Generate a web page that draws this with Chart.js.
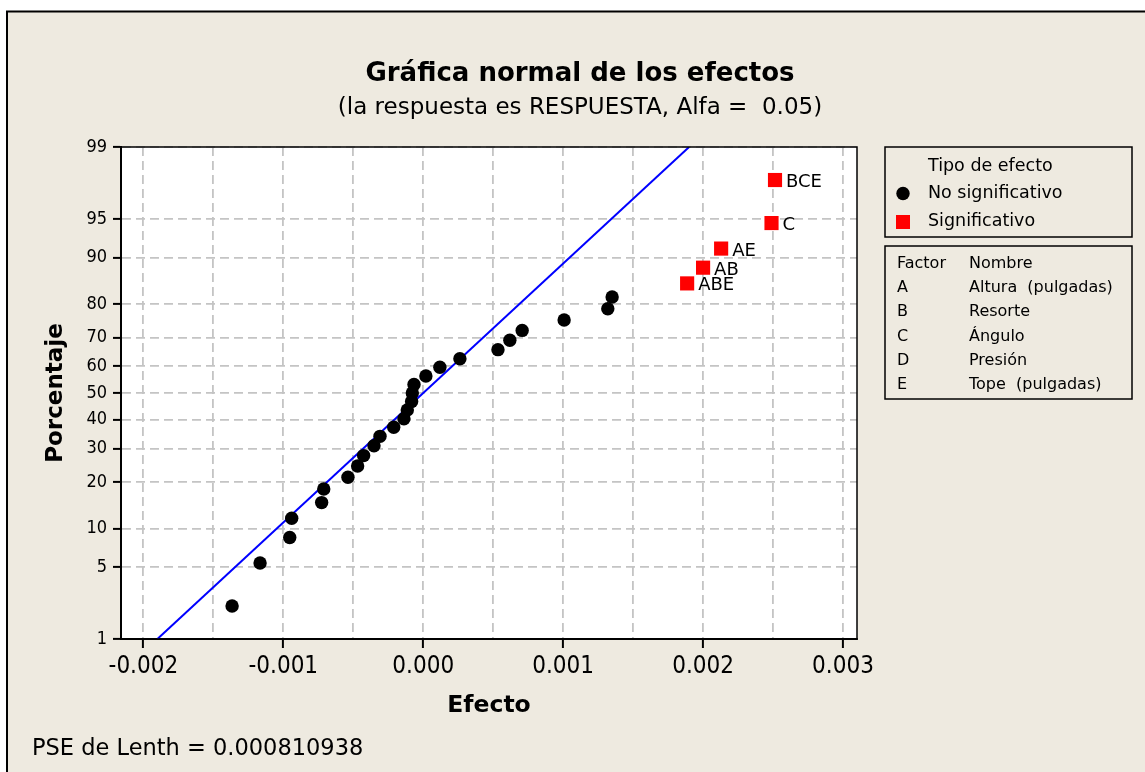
<!DOCTYPE html>
<html>
<head>
<meta charset="utf-8">
<script src="https://cdn.jsdelivr.net/npm/chart.js@4.4.1/dist/chart.umd.min.js"></script>
<style>
  html, body { margin: 0; padding: 0; background: #fff; }
  #wrap { width: 1145px; height: 772px; }
</style>
</head>
<body>
<div id="wrap"><canvas id="chart" width="1145" height="772"></canvas></div>
<script>
// datos
const efectoNoSig = [-0.001366, -0.001166, -0.000954, -0.000940, -0.000726, -0.000711, -0.000538,
  -0.000469, -0.000426, -0.000352, -0.000309, -0.000211, -0.000138, -0.000114, -0.000083,
  -0.000078, -0.000066, 0.000019, 0.000119, 0.000262, 0.000534, 0.000619, 0.000707,
  0.001007, 0.001319, 0.001350];
const pctNoSig = [2.2, 5.4, 8.6, 11.8, 15.0, 18.2, 21.3, 24.5, 27.7, 30.9, 34.1, 37.3, 40.4,
  43.6, 46.8, 50.0, 53.2, 56.4, 59.6, 62.7, 65.9, 69.1, 72.3, 75.5, 78.7, 81.8];

const efectoSig = [0.001886, 0.002000, 0.002129, 0.002489, 0.002514];
const pctSig = [85.0, 88.2, 91.4, 94.6, 97.8];
const etiquetasSig = ['ABE', 'AB', 'AE', 'C', 'BCE'];

// recta de referencia (extremos)
const efectoRecta = [-0.00190, 0.00190];
const pctRecta = [1, 99];

const xTicks = [-0.002, -0.0015, -0.001, -0.0005, 0, 0.0005, 0.001, 0.0015, 0.002, 0.0025, 0.003];
const yTickLabels = [1, 5, 10, 20, 30, 40, 50, 60, 70, 80, 90, 95, 99];

const factores = ['A', 'B', 'C', 'D', 'E'];
const nombres = ['Altura  (pulgadas)', 'Resorte', 'Ángulo', 'Presión', 'Tope  (pulgadas)'];

const FONT = '"DejaVu Sans", sans-serif';
const FONT_C = '"DejaVu Sans Condensed", "DejaVu Sans", sans-serif';
const BEIGE = '#EEEAE0';

// inversa de la normal (Acklam)
function probit(p) {
  const a = [-3.969683028665376e+01, 2.209460984245205e+02, -2.759285104469687e+02, 1.383577518672690e+02, -3.066479806614716e+01, 2.506628277459239e+00];
  const b = [-5.447609879822406e+01, 1.615858368580409e+02, -1.556989798598866e+02, 6.680131188771972e+01, -1.328068155288572e+01];
  const c = [-7.784894002430293e-03, -3.223964580411365e-01, -2.400758277161838e+00, -2.549732539343734e+00, 4.374664141464968e+00, 2.938163982698783e+00];
  const d = [7.784695709041462e-03, 3.224671290700398e-01, 2.445134137142996e+00, 3.754408661907416e+00];
  const pl = 0.02425;
  let q, r;
  if (p < pl) {
    q = Math.sqrt(-2 * Math.log(p));
    return (((((c[0]*q+c[1])*q+c[2])*q+c[3])*q+c[4])*q+c[5]) / ((((d[0]*q+d[1])*q+d[2])*q+d[3])*q+1);
  }
  if (p <= 1 - pl) {
    q = p - 0.5; r = q * q;
    return (((((a[0]*r+a[1])*r+a[2])*r+a[3])*r+a[4])*r+a[5])*q / (((((b[0]*r+b[1])*r+b[2])*r+b[3])*r+b[4])*r+1);
  }
  q = Math.sqrt(-2 * Math.log(1 - p));
  return -(((((c[0]*q+c[1])*q+c[2])*q+c[3])*q+c[4])*q+c[5]) / ((((d[0]*q+d[1])*q+d[2])*q+d[3])*q+1);
}

const toPts = (xs, ps) => xs.map((x, i) => ({x: x, y: probit(ps[i] / 100)}));
const isMajor = v => Math.abs(v / 0.001 - Math.round(v / 0.001)) < 1e-6;

const marco = {
  id: 'marco',
  beforeDraw(chart) {
    const ctx = chart.ctx, a = chart.chartArea;
    ctx.save();
    ctx.fillStyle = BEIGE;
    ctx.fillRect(7, 11.5, 1200, 800);
    ctx.strokeStyle = '#000';
    ctx.lineWidth = 2;
    ctx.strokeRect(7, 11.5, 1200, 800);
    ctx.fillStyle = '#fff';
    ctx.fillRect(a.left, a.top, a.right - a.left, a.bottom - a.top);
    ctx.restore();
  },
  afterDatasetsDraw(chart) {
    const ctx = chart.ctx;
    const meta = chart.getDatasetMeta(2);
    ctx.save();
    ctx.fillStyle = '#000';
    ctx.font = '18px ' + FONT;
    ctx.textBaseline = 'alphabetic';
    meta.data.forEach((pt, i) => {
      ctx.fillText(etiquetasSig[i], pt.x + 11, pt.y + 7);
    });
    ctx.restore();
  },
  afterDraw(chart) {
    const ctx = chart.ctx, a = chart.chartArea;
    ctx.save();
    ctx.strokeStyle = '#000';
    ctx.lineWidth = 1.5;
    ctx.strokeRect(a.left, a.top, a.right - a.left, a.bottom - a.top);

    ctx.fillStyle = '#000';
    ctx.textAlign = 'center';
    ctx.textBaseline = 'alphabetic';
    ctx.font = 'bold 26px ' + FONT;
    ctx.fillText('Gráfica normal de los efectos', 580, 81);
    ctx.font = '23px ' + FONT;
    ctx.fillText('(la respuesta es RESPUESTA, Alfa =  0.05)', 580, 114);

    ctx.font = 'bold 23.5px ' + FONT;
    ctx.fillText('Efecto', (a.left + a.right) / 2, 712);
    ctx.save();
    ctx.translate(62, (a.top + a.bottom) / 2);
    ctx.rotate(-Math.PI / 2);
    ctx.font = 'bold 23px ' + FONT;
    ctx.fillText('Porcentaje', 0, 0);
    ctx.restore();

    ctx.textAlign = 'left';
    ctx.font = '22.5px ' + FONT;
    ctx.fillText('PSE de Lenth = 0.000810938', 32, 755);

    // leyenda tipo de efecto
    ctx.lineWidth = 1.5;
    ctx.strokeRect(885, 147, 247, 90);
    ctx.font = '17.5px ' + FONT;
    ctx.fillText('Tipo de efecto', 928, 171);
    ctx.fillText('No significativo', 928, 198);
    ctx.fillText('Significativo', 928, 226);
    ctx.beginPath();
    ctx.arc(903, 193.5, 6.7, 0, Math.PI * 2);
    ctx.fill();
    ctx.fillStyle = '#FF0000';
    ctx.fillRect(896, 215, 14, 14);

    // tabla de factores
    ctx.fillStyle = '#000';
    ctx.strokeRect(885, 246, 247, 153);
    ctx.font = '16px ' + FONT;
    ctx.fillText('Factor', 897, 268);
    ctx.fillText('Nombre', 969, 268);
    factores.forEach((f, i) => {
      const y = 292 + i * 24.3;
      ctx.fillText(f, 897, y);
      ctx.fillText(nombres[i], 969, y);
    });
    ctx.restore();
  }
};

new Chart(document.getElementById('chart'), {
  type: 'scatter',
  data: {
    datasets: [
      {
        label: 'Recta',
        data: toPts(efectoRecta, pctRecta),
        showLine: true,
        borderColor: '#0000FF',
        borderWidth: 2,
        pointRadius: 0,
        fill: false,
        order: 3
      },
      {
        label: 'No significativo',
        data: toPts(efectoNoSig, pctNoSig),
        backgroundColor: '#000',
        borderWidth: 0,
        pointRadius: 6.7,
        pointHoverRadius: 6.7,
        order: 2
      },
      {
        label: 'Significativo',
        data: toPts(efectoSig, pctSig),
        backgroundColor: '#FF0000',
        borderWidth: 0,
        pointStyle: 'rect',
        pointRadius: 10,
        pointHoverRadius: 10,
        order: 1
      }
    ]
  },
  options: {
    responsive: false,
    animation: false,
    layout: { padding: { left: 0, right: 288, top: 147, bottom: 0 } },
    plugins: {
      legend: { display: false },
      tooltip: { enabled: false },
      title: { display: false }
    },
    scales: {
      x: {
        type: 'linear',
        min: -0.00216,
        max: 0.0031,
        afterBuildTicks: s => { s.ticks = xTicks.map(v => ({value: v})); },
        afterFit: s => { s.height = 133; },
        ticks: {
          autoSkip: false,
          maxRotation: 0,
          padding: 4,
          color: '#000',
          font: { family: FONT_C, size: 24 },
          callback: v => isMajor(v) ? v.toFixed(3) : ''
        },
        grid: {
          color: '#C4C4C4',
          lineWidth: 1.8,
          tickLength: 9,
          tickWidth: 2,
          tickColor: c => (c.tick && isMajor(c.tick.value)) ? '#000' : 'rgba(0,0,0,0)',
          tickBorderDash: []
        },
        border: { display: true, color: '#000', width: 2, dash: [9, 5] }
      },
      y: {
        type: 'linear',
        min: probit(0.01),
        max: probit(0.99),
        afterBuildTicks: s => { s.ticks = yTickLabels.map(p => ({value: probit(p / 100)})); },
        afterFit: s => { s.width = 121; },
        ticks: {
          autoSkip: false,
          padding: 6,
          color: '#000',
          font: { family: FONT_C, size: 18 },
          callback: (v, i) => String(yTickLabels[i])
        },
        grid: {
          color: '#C4C4C4',
          lineWidth: 1.8,
          tickLength: 8,
          tickWidth: 2,
          tickColor: '#000',
          tickBorderDash: []
        },
        border: { display: true, color: '#000', width: 2, dash: [9, 5] }
      }
    }
  },
  plugins: [marco]
});
</script>
</body>
</html>
